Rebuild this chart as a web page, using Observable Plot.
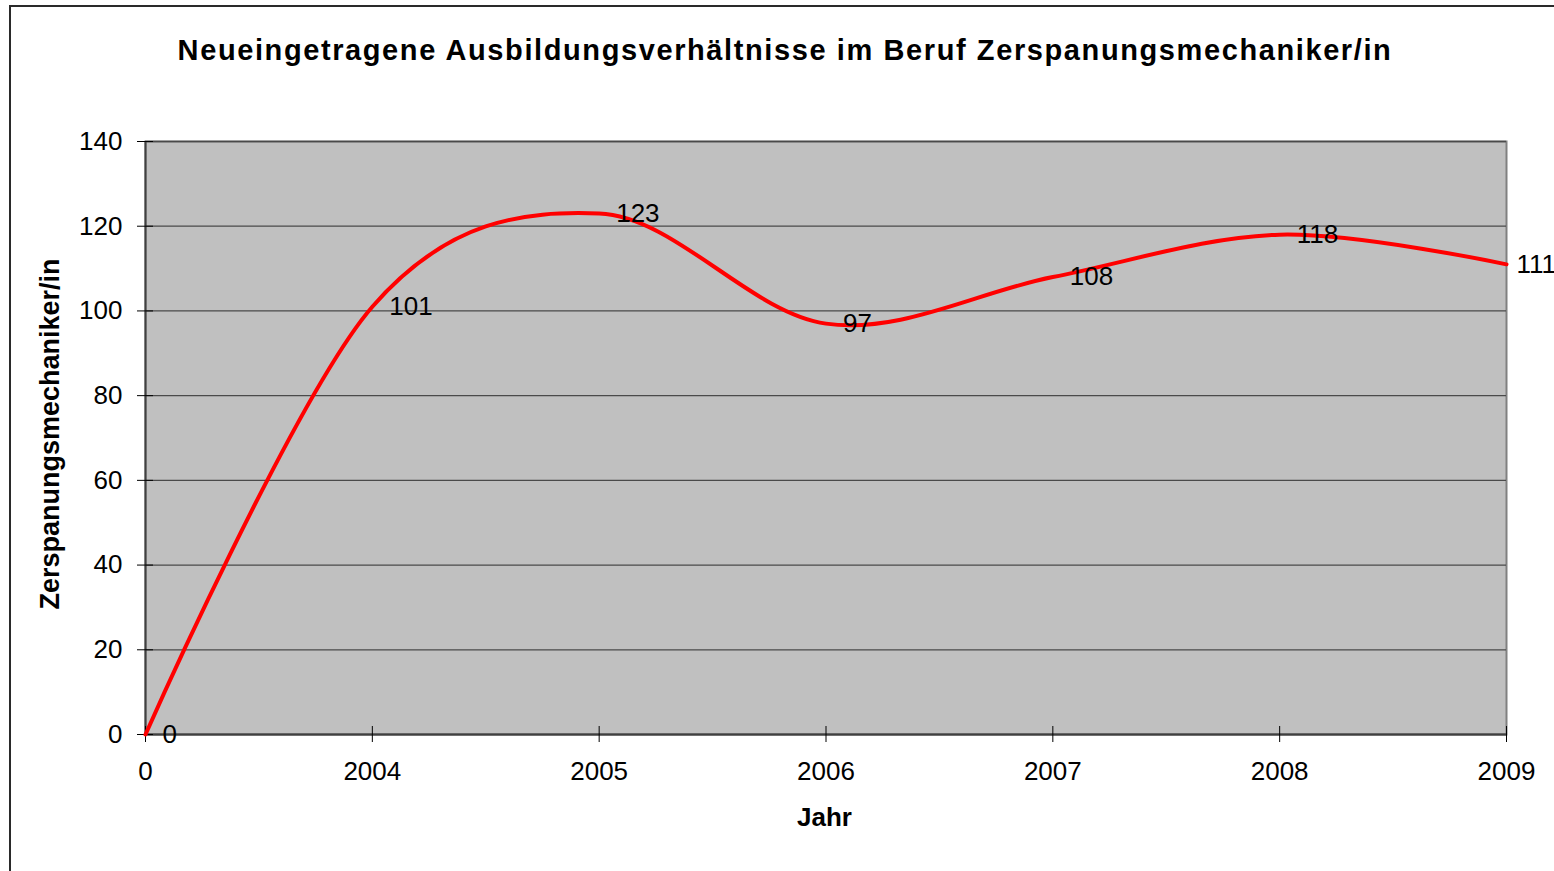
<!DOCTYPE html>
<html>
<head>
<meta charset="utf-8">
<script src="https://cdn.jsdelivr.net/npm/d3@7"></script>
<script src="https://cdn.jsdelivr.net/npm/@observablehq/plot@0.6"></script>
<style>
  html, body { margin: 0; padding: 0; background: #fff; overflow: hidden; }
  #wrap { position: relative; width: 1554px; height: 871px; font-family: "Liberation Sans", Arial, sans-serif; color: #000; }
  #border { position: absolute; left: 9px; top: 5px; width: 1700px; height: 1000px; border: 2px solid #2a2a2a; box-sizing: border-box; }
  #title { position: absolute; left: 0; width: 1570px; top: 33px; text-align: center; font-weight: bold; font-size: 29px; letter-spacing: 1.6px; line-height: 34px; }
  #xtitle { position: absolute; left: 0; width: 1649px; top: 802px; text-align: center; font-weight: bold; font-size: 26px; line-height: 30px; }
  #ytitle { position: absolute; left: 50px; top: 434px; font-weight: bold; font-size: 27px; line-height: 30px; white-space: nowrap; transform: translate(-50%, -50%) rotate(-90deg); }
  #chart { position: absolute; left: 0; top: 0; }
</style>
</head>
<body>
<div id="wrap">
  <div id="border"></div>
  <div id="title">Neueingetragene Ausbildungsverhältnisse im Beruf Zerspanungsmechaniker/in</div>
  <div id="ytitle">Zerspanungsmechaniker/in</div>
  <div id="xtitle">Jahr</div>
  <div id="chart"></div>
</div>
<script>
const categories = ["0", "2004", "2005", "2006", "2007", "2008", "2009"];
const values = [0, 101, 123, 97, 108, 118, 111];
const yTicks = [0, 20, 40, 60, 80, 100, 120, 140];

const data = categories.map((c, i) => ({cat: c, value: values[i]}));

const chart = Plot.plot({
  width: 1554,
  height: 871,
  marginLeft: 145,
  marginRight: 48,
  marginTop: 141,
  marginBottom: 137,
  style: {fontFamily: '"Liberation Sans", Arial, sans-serif', fontSize: "26px", color: "#000", background: "transparent", overflow: "visible"},
  x: {type: "point", domain: categories, padding: 0, round: false, label: null},
  y: {domain: [0, 140], ticks: yTicks, label: null},
  marks: [
    Plot.frame({fill: "#c0c0c0", stroke: "#808080", strokeWidth: 2}),
    Plot.gridY(yTicks, {stroke: "#4a4a4a", strokeOpacity: 1, strokeWidth: 1.3}),
    Plot.ruleY([0], {stroke: "#404040", strokeWidth: 2}),
    Plot.ruleX([categories[0]], {stroke: "#404040", strokeWidth: 2}),
    Plot.axisY(yTicks, {tickSize: 8, tickPadding: 15, stroke: "#000", strokeOpacity: 1, fontSize: 26, label: null}),
    Plot.axisY(yTicks, {tickSize: -8, stroke: "#000", strokeOpacity: 1, tickFormat: () => "", label: null}),
    Plot.axisX({tickSize: 8, tickPadding: 19, stroke: "#000", strokeOpacity: 1, fontSize: 26, label: null}),
    Plot.axisX({tickSize: -8, stroke: "#000", strokeOpacity: 1, tickFormat: () => "", label: null}),
    Plot.line(data, {x: "cat", y: "value", stroke: "#ff0000", strokeWidth: 4, curve: "cardinal"}),
    Plot.text(data.slice(0, -1), {x: "cat", y: "value", text: d => String(d.value), textAnchor: "start", dx: 17, fontSize: 26, fill: "#000"}),
    Plot.text(data.slice(-1), {x: "cat", y: "value", text: d => String(d.value), textAnchor: "start", dx: 10, fontSize: 26, fill: "#000"})
  ]
});
document.getElementById("chart").appendChild(chart);
</script>
</body>
</html>
